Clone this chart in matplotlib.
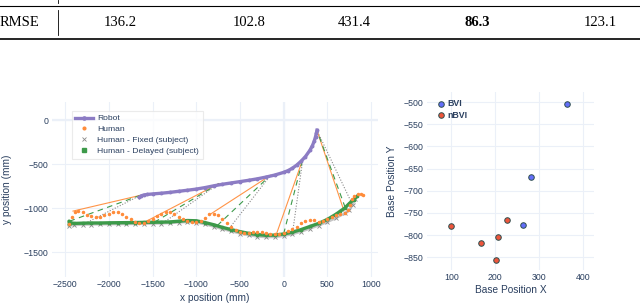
import matplotlib.pyplot as plt
import matplotlib as mpl

mpl.rcParams['font.family'] = ['Liberation Sans', 'DejaVu Sans']
TXT = '#2a3f5f'
GRID = '#ebf0f8'

# ---------- data ----------
rmse_label = 'RMSE'
rmse_vals = [136.2, 102.8, 431.4, 86.3, 123.1]

robot_x = [-1650, -1630, -1600, -1560, -1500, -1400, -1300, -1200, -1100, -1000, -900, -800, -700,
           -600, -500, -400, -300, -200, -100, 0, 50, 100, 150, 200, 250, 300, 330, 350, 365, 375, 382]
robot_y = [-880, -862, -852, -846, -840, -832, -822, -810, -798, -785, -768, -748, -730,
           -715, -700, -685, -668, -648, -625, -595, -575, -548, -512, -468, -415, -345, -290, -240, -190, -150, -115]

human_x = [-2450, -2420, -2390, -2350, -2300, -2250, -2200, -2150, -2100, -2050, -2000, -1950, -1900, -1850,
           -1800, -1750, -1700, -1650, -1600, -1550, -1500, -1450, -1400, -1350, -1300, -1250, -1200, -1150,
           -1100, -1050, -1000, -950, -900, -850, -800, -750, -700, -650, -600, -550, -500, -450, -400, -350,
           -300, -250, -200, -150, -100, -50, 0, 50, 100, 150, 200, 250, 300, 350, 400, 450, 500, 550, 600,
           650, 700, 740, 760, 780, 810, 850, 890, 905]
human_y = [-1180, -1100, -1050, -1035, -1045, -1075, -1095, -1105, -1100, -1085, -1065, -1050, -1050, -1070,
           -1100, -1130, -1155, -1165, -1165, -1150, -1120, -1090, -1065, -1050, -1050, -1070, -1100, -1130,
           -1150, -1160, -1160, -1150, -1110, -1070, -1065, -1085, -1120, -1170, -1215, -1250, -1275, -1285,
           -1280, -1272, -1272, -1275, -1282, -1290, -1295, -1290, -1280, -1262, -1240, -1215, -1175, -1145,
           -1135, -1140, -1155, -1150, -1125, -1100, -1080, -1065, -1055, -1020, -960, -900, -860, -845, -842, -850]

fixed_x = [-2460, -2400, -2300, -2200, -2100, -2000, -1900, -1800, -1700, -1600, -1500, -1400, -1300, -1200,
           -1100, -1000, -900, -800, -700, -600, -500, -400, -300, -200, -100, 0, 100, 200, 300, 400, 500,
           600, 700, 750, 790, 820]
fixed_y = [-1200, -1195, -1190, -1188, -1186, -1185, -1184, -1183, -1182, -1180, -1178, -1176, -1172, -1165,
           -1160, -1165, -1185, -1212, -1240, -1265, -1290, -1310, -1325, -1332, -1330, -1318, -1298, -1270,
           -1235, -1200, -1160, -1115, -1060, -1020, -960, -900]

delayed_x = [-2450, -2455, -2440, -2400, -2300, -2200, -2100, -2000, -1900, -1800, -1700, -1600, -1500,
             -1400, -1300, -1200, -1100, -1000, -900, -800, -700, -600, -500, -400, -300, -200, -100, 0,
             100, 200, 300, 400, 500, 600, 650, 700, 750, 800, 840]
delayed_y = [-1185, -1150, -1165, -1175, -1172, -1170, -1170, -1168, -1167, -1166, -1165, -1163, -1162,
             -1160, -1158, -1150, -1142, -1145, -1165, -1190, -1220, -1245, -1268, -1288, -1302, -1310,
             -1308, -1295, -1275, -1245, -1210, -1175, -1130, -1070, -1035, -1000, -950, -905, -868]

# robot point of each matched instant, and the three human positions at that instant
link_robot_x = [-1640, -740, -150, 220, 382]
link_robot_y = [-856, -722, -628, -445, -118]
link_human_x = [-2410, -1590, -830, -80, 690]
link_human_y = [-1035, -1160, -1065, -1290, -1030]
link_fixed_x = [-2300, -1380, -640, 100, 780]
link_fixed_y = [-1190, -1170, -1255, -1298, -945]
link_delayed_x = [-2450, -1480, -760, 0, 705]
link_delayed_y = [-1150, -1162, -1200, -1295, -995]

bvi_x = [364, 282, 264]
bvi_y = [-505, -670, -778]
nbvi_x = [100, 168, 207, 227, 202]
nbvi_y = [-780, -818, -804, -766, -857]

# ---------- figure ----------
fig = plt.figure(figsize=(6.4, 3.04), dpi=100)

# table row on top
axt = fig.add_axes([0, 0, 1, 1], zorder=-1)
axt.set_xlim(0, 640)
axt.set_ylim(304, 0)
axt.axis('off')
axt.plot([0, 640], [6, 6], color='k', lw=0.8)
axt.plot([0, 640], [39, 39], color='k', lw=1.2)
axt.plot([58, 58], [0, 3], color='k', lw=0.6)
axt.plot([58, 58], [10, 35], color='k', lw=0.6)
axt.text(0, 23, rmse_label, family='Liberation Serif', fontsize=10.5, va='center', ha='left')
col_x = [120, 249, 354, 477, 600]
best = min(rmse_vals)
for cx, v in zip(col_x, rmse_vals):
    axt.text(cx, 23, f'{v:.1f}', family='Liberation Serif', fontsize=10.5, va='center', ha='center',
             fontweight='bold' if v == best else 'normal')


def style(ax):
    for s in ax.spines.values():
        s.set_visible(False)
    ax.grid(True, color=GRID, lw=0.8)
    ax.set_axisbelow(True)
    ax.tick_params(length=0, labelsize=6.3, labelcolor=TXT, pad=2.5)


# left: trajectories
ax1 = fig.add_axes([52 / 640, 1 - 277 / 304, 326 / 640, 175 / 304])
style(ax1)
ax1.axhline(0, color=GRID, lw=1.6, zorder=0)
ax1.axvline(0, color=GRID, lw=1.6, zorder=0)

for i in range(len(link_robot_x)):
    ax1.plot([link_human_x[i], link_robot_x[i]], [link_human_y[i], link_robot_y[i]],
             color='#ff9447', lw=0.8, zorder=2)
    ax1.plot([link_delayed_x[i], link_robot_x[i]], [link_delayed_y[i], link_robot_y[i]],
             color='#3d9a4a', lw=0.8, ls=(0, (5, 4)), zorder=2)
    ax1.plot([link_fixed_x[i], link_robot_x[i]], [link_fixed_y[i], link_robot_y[i]],
             color='#8a8a8a', lw=0.8, ls=(0, (1, 1.5)), zorder=2)

ax1.plot(fixed_x, fixed_y, color='#a0a0a0', lw=1.6, alpha=0.6, zorder=3)
ax1.plot(fixed_x, fixed_y, ls='none', marker='x', ms=2.2, mew=0.6, color='#8a8a8a', zorder=3,
         label='Human - Fixed (subject)')
ax1.plot(delayed_x, delayed_y, color='#3d9a4a', lw=2.4, zorder=4)
ax1.plot(delayed_x, delayed_y, ls='none', marker='s', ms=1.8, color='#3d9a4a', zorder=4,
         label='Human - Delayed (subject)')
ax1.plot(human_x, human_y, ls='none', marker='o', ms=1.5, color='#ff8c3a', zorder=5, label='Human')
ax1.plot(robot_x, robot_y, color='#8c7cc4', lw=2.4, marker='o', ms=1.8, zorder=6, label='Robot')

ax1.set_xlim(-2650, 1080)
ax1.set_ylim(-1784, 205)
ax1.set_xticks([-2500, -2000, -1500, -1000, -500, 0, 500, 1000])
ax1.set_yticks([-1500, -1000, -500, 0])
ax1.set_xlabel('x position (mm)', fontsize=7.3, color=TXT)
ax1.set_ylabel('y position (mm)', fontsize=7.3, color=TXT)
ax1.xaxis.set_label_coords(0.5, -0.09)
ax1.yaxis.set_label_coords(-0.123, 0.5)

h, l = ax1.get_legend_handles_labels()
order = [l.index('Robot'), l.index('Human'), l.index('Human - Fixed (subject)'),
         l.index('Human - Delayed (subject)')]
leg = ax1.legend([h[i] for i in order], [l[i] for i in order], loc='upper left',
                 bbox_to_anchor=(0.06, 0.95), fontsize=6.1, frameon=True, fancybox=False,
                 borderpad=0.45, labelspacing=0.35, handlelength=2.1, handletextpad=0.5,
                 borderaxespad=0, markerscale=1.3)
leg.get_frame().set_edgecolor('#e6e6e6')
leg.get_frame().set_linewidth(0.8)
for t in leg.get_texts():
    t.set_color(TXT)

# right: base positions
ax2 = fig.add_axes([427 / 640, 1 - 270 / 304, 167 / 640, 178 / 304])
style(ax2)
ax2.scatter(bvi_x, bvi_y, s=16, color='#636efa', edgecolor='#2f4f4f', lw=0.7, zorder=3, label='BVI')
ax2.scatter(nbvi_x, nbvi_y, s=16, color='#ef553b', edgecolor='#2f4f4f', lw=0.7, zorder=3, label='nBVI')
ax2.set_xlim(45, 425)
ax2.set_ylim(-879, -477)
ax2.set_xticks([100, 200, 300, 400])
ax2.set_yticks([-850, -800, -750, -700, -650, -600, -550, -500])
ax2.set_xlabel('Base Position X', fontsize=7.3, color=TXT)
ax2.set_ylabel('Base Position Y', fontsize=7.3, color=TXT)
ax2.xaxis.set_label_coords(0.5, -0.085)
ax2.yaxis.set_label_coords(-0.18, 0.5)
leg2 = ax2.legend(loc='upper left', bbox_to_anchor=(0.03, 0.98), frameon=False, fontsize=6.3,
                  handletextpad=0.2, labelspacing=0.3, borderaxespad=0, handlelength=1.2)
for t in leg2.get_texts():
    t.set_color(TXT)
    t.set_fontweight('bold')

fig.savefig('out.png', dpi=100)
